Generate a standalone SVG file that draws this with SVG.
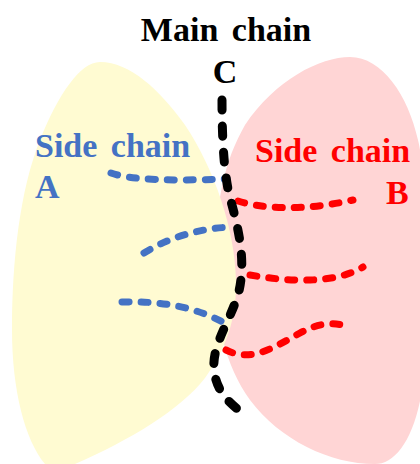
<svg xmlns="http://www.w3.org/2000/svg" width="420" height="464" viewBox="0 0 420 464">
<style>
.t{font-family:"Liberation Serif","Times New Roman",serif;font-weight:bold;font-size:34px;word-spacing:5px}
.blue{fill:none;stroke:#4472C4;stroke-width:7;stroke-linecap:round;stroke-dasharray:7 12}
.red{fill:none;stroke:#FF0000;stroke-width:7;stroke-linecap:round;stroke-dasharray:7 12}
.main{fill:none;stroke:#000;stroke-width:9;stroke-linecap:round;stroke-dasharray:10 16}
</style>
<rect width="420" height="464" fill="#fff"/>
<g id="regionB">
<path d="M350,57 C382,57 408,95 418,140 C430,190 432,330 422,390 C414,440 395,464 375,464 C330,464 280,440 250,400 C225,365 215,320 215,270 C215,200 225,160 245,125 C275,80 320,57 350,57 Z" fill="#FFD5D5"/>
</g>
<g id="regionA">
<path d="M100,62 C130,62 160,90 185,125 C215,170 235,230 236,280 C237,320 225,350 205,378 C180,410 130,440 75,464 L45,464 C25,440 12,390 12,330 C12,260 20,190 40,140 C58,95 80,62 100,62 Z" fill="#FFFBD2"/>
</g>
<g id="sideA">
<path class="blue" d="M111,173 C130,180 170,181 227,179"/>
<path class="blue" d="M144,253 C170,237 200,228 233,227"/>
<path class="blue" d="M122,302 C160,301 195,306 228,325"/>
</g>
<g id="sideB">
<path class="red" d="M238,201 C260,208 300,212 353,200"/>
<path class="red" d="M250,275 C290,282 335,284 363,267"/>
<path class="red" d="M226,350 C250,362 270,350 300,333 C320,322 335,322 350,327"/>
</g>
<g id="mainC">
<path class="main" d="M222,100 C222,140 224,180 232,205 C240,235 246,265 238,295 C228,325 212,345 214,370 C216,390 228,402 240,411"/>
</g>
<g id="labels">
<text class="t" x="226" y="41" text-anchor="middle" fill="#000">Main chain</text>
<text class="t" x="225" y="83" text-anchor="middle" fill="#000">C</text>
<text class="t" x="35" y="157" fill="#4472C4">Side chain</text>
<text class="t" x="35" y="198" fill="#4472C4">A</text>
<text class="t" x="255" y="162" fill="#FF0000">Side chain</text>
<text class="t" x="386" y="204" fill="#FF0000">B</text>
</g>
</svg>
